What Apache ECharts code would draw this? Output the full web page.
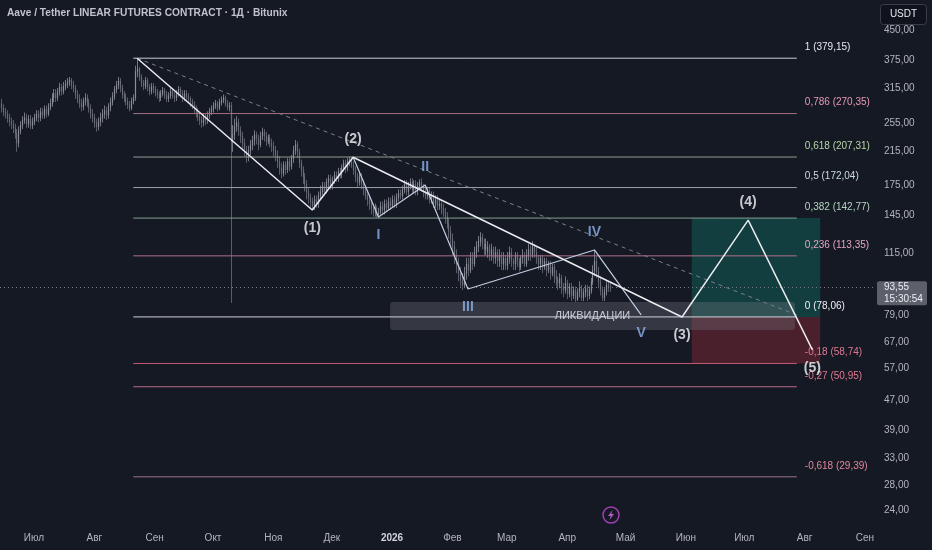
<!DOCTYPE html>
<html><head><meta charset="utf-8">
<script src="https://cdn.jsdelivr.net/npm/echarts@6/dist/echarts.min.js"></script>
<style>html,body{margin:0;padding:0;background:#151924;}#c{width:932px;height:550px;}</style>
</head><body><div id="c"></div>
<script>
// ---------- DATA ----------
const titleText = 'Aave / Tether LINEAR FUTURES CONTRACT · 1Д · Bitunix';
const currencyLabel = 'USDT';
const firstCandleDate = '2025-06-14';
// daily bars: [open, close, low, high]
const candles = [
[288,280,272,296],[280,274,266,286],[274,270,262,280],[270,264,256,276],[264,258,250,270],[258,254,246,264],[254,248,240,260],[248,240,232,254],[240,226,214,246],[226,244,220,250],
[244,252,238,258],[252,260,246,266],[260,264,254,272],[264,254,248,270],[254,262,248,268],[262,252,246,268],[252,258,246,264],[258,264,252,270],[264,270,258,276],[270,264,256,276],
[264,274,258,280],[274,268,262,280],[268,278,262,284],[278,270,264,284],[270,282,266,288],[282,288,276,296],[288,298,282,306],[298,306,290,314],[306,298,290,314],[298,310,292,316],
[310,318,302,326],[318,310,302,324],[310,320,304,328],[320,324,312,332],[324,328,316,336],[328,332,320,338],[332,322,314,336],[322,316,308,330],[316,304,296,322],[304,296,288,312],
[296,288,280,304],[288,282,274,296],[282,292,276,298],[292,298,284,306],[298,290,282,304],[290,280,272,296],[280,270,262,286],[270,264,256,278],[264,256,248,270],[256,250,242,262],
[250,258,244,264],[258,264,250,272],[264,270,256,278],[270,276,262,284],[276,268,260,282],[268,282,262,288],[282,290,274,298],[290,300,284,308],[300,314,294,320],[314,322,306,330],
[322,330,314,338],[330,316,308,336],[316,304,296,322],[304,300,290,310],[300,292,284,306],[292,286,278,298],[286,280,274,292],[280,292,276,298],[292,298,286,304],[298,350,292,362],
[350,356,338,379],[356,338,330,360],[338,326,318,344],[326,320,312,332],[320,332,314,338],[332,318,310,336],[318,310,302,324],[310,320,304,326],[320,314,306,326],[314,308,300,320],
[308,304,296,314],[304,298,290,310],[298,306,292,312],[306,312,300,318],[312,304,296,316],[304,296,290,310],[296,302,290,308],[302,310,296,316],[310,302,296,314],[302,298,290,308],
[298,306,292,312],[306,314,300,320],[314,306,298,318],[306,298,290,312],[298,306,292,312],[306,300,294,312],[300,296,288,306],[296,290,282,300],[290,286,278,296],[286,278,270,292],
[278,274,264,284],[274,266,258,280],[266,260,252,272],[260,256,248,266],[256,266,250,270],[266,260,252,270],[260,268,254,274],[268,274,262,280],[274,278,268,284],[278,284,272,290],
[284,288,278,294],[288,280,274,292],[280,290,276,296],[290,294,284,300],[294,298,288,304],[298,288,282,302],[288,282,276,294],[282,284,274,290],[284,228,85,290],[228,238,214,252],
[238,250,230,262],[250,256,242,266],[256,244,236,262],[244,236,226,250],[236,226,218,242],[226,216,208,232],[216,208,200,222],[208,216,202,222],[216,224,210,230],[224,230,216,236],
[230,238,222,244],[238,232,224,242],[232,224,216,238],[224,236,220,242],[236,242,230,248],[242,236,228,246],[236,228,222,242],[228,234,224,238],[234,226,220,238],[226,222,214,232],
[222,216,208,228],[216,210,202,222],[210,202,194,216],[202,194,186,208],[194,188,182,200],[188,198,184,202],[198,192,186,202],[192,202,188,206],[202,196,190,206],[196,206,192,210],
[206,216,200,222],[216,224,210,230],[224,214,206,228],[214,200,194,218],[200,192,184,204],[192,184,176,196],[184,176,168,188],[176,168,160,180],[168,162,156,172],[162,158,152,166],
[158,154,150,162],[154,160,150,164],[160,156,152,164],[156,164,152,168],[164,168,160,174],[168,174,164,178],[174,168,164,178],[168,178,166,182],[178,182,172,186],[182,174,170,186],
[174,180,170,184],[180,186,176,190],[186,182,178,190],[182,190,178,194],[190,186,182,194],[186,194,182,198],[194,200,190,204],[200,194,188,204],[194,202,190,206],[202,204,196,208],
[204,198,194,208],[198,192,186,202],[192,184,178,196],[184,178,172,188],[178,186,174,190],[186,176,170,188],[176,170,164,180],[170,164,160,174],[164,160,154,168],[160,156,150,164],
[156,152,146,160],[152,148,144,156],[148,152,144,156],[152,146,143,154],[146,148,143,152],[148,154,146,158],[154,150,146,158],[150,156,146,160],[156,152,148,160],[152,158,150,162],
[158,154,150,162],[154,160,152,164],[160,156,152,164],[156,162,152,166],[162,166,158,170],[166,164,160,170],[164,170,160,174],[170,176,166,180],[176,168,164,180],[168,174,164,178],
[174,178,170,182],[178,170,166,182],[170,176,166,180],[176,168,164,180],[168,174,164,178],[174,178,170,181],[178,172,168,182],[172,168,162,176],[168,164,160,172],[164,168,160,172],
[168,160,156,172],[160,164,156,168],[164,156,152,168],[156,160,152,164],[160,154,150,164],[154,156,150,160],[156,152,146,158],[152,148,144,156],[148,144,138,152],[144,138,134,148],
[138,132,126,142],[132,126,120,136],[126,120,114,130],[120,114,108,124],[114,108,102,118],[108,102,97,112],[102,98,94,106],[98,95,92,102],[95,102,93,106],[102,108,98,112],
[108,104,100,112],[104,112,102,116],[112,108,104,116],[108,116,106,120],[116,120,112,124],[120,124,116,128],[124,127,120,131],[127,122,118,130],[122,118,114,126],[118,122,114,126],
[116,120,112,124],[120,114,110,122],[114,118,110,122],[118,112,108,120],[112,116,108,120],[116,110,106,118],[110,114,106,118],[114,108,104,116],[108,112,104,116],[112,107,104,114],
[107,112,104,116],[112,116,108,120],[116,110,106,119],[110,108,104,112],[108,114,104,116],[114,110,106,116],[110,106,103,112],[106,112,104,114],[112,114,108,118],[114,108,106,116],
[108,114,106,118],[114,118,110,122],[118,114,110,121],[114,120,112,124],[120,116,112,122],[116,112,108,120],[112,108,104,114],[108,112,104,114],[112,106,102,114],[106,110,104,112],
[110,104,100,112],[104,108,102,110],[108,102,98,110],[102,106,100,108],[106,100,96,108],[100,98,94,104],[98,96,92,100],[96,99,93,102],[99,94,90,101],[94,92,88,96],
[92,96,90,100],[96,90,87,98],[90,94,88,96],[94,89,86,96],[89,92,87,94],[92,87,85.5,94],[87,91,86,93],[91,93,88,97],[93,88,86,95],[88,91,86,93],
[91,93,88,95],[93,89,86,95],[89,92,87,94],[92,97,90,99],[97,104,95,107],[104,110,100,117.5],[110,103,99,113],[103,97,93,106],[97,92,89,100],[92,88,86,94],
[88,91,86,93],[91,95,89,97],[95,94,91,97],[94,93.55,91,96]
];
const lastPrice = 93.55;
const countdownText = '15:30:54';

const monthDates = ['2025-07-01','2025-08-01','2025-09-01','2025-10-01','2025-11-01','2025-12-01','2026-01-01','2026-02-01','2026-03-01','2026-04-01','2026-05-01','2026-06-01','2026-07-01','2026-08-01','2026-09-01'];
const monthLabels = ['Июл','Авг','Сен','Окт','Ноя','Дек','2026','Фев','Мар','Апр','Май','Июн','Июл','Авг','Сен'];
const priceTicks = [450,375,315,255,215,175,145,115,79,67,57,47,39,33,28,24];

const fibRatios = ['1','0,786','0,618','0,5','0,382','0,236','0','-0,18','-0,27','-0,618'];
const fibPrices = [379.15,270.35,207.31,172.04,142.77,113.35,78.06,58.74,50.95,29.39];
const fibDates = ['2025-08-21','2026-07-28'];

const mainWaveDates = ['2025-08-23','2025-11-21','2025-12-12','2026-05-30','2026-07-03','2026-08-05'];
const mainWavePrices = [379.15,150,207,78,141,63.8];
const mainWaveLabels = ['','(1)','(2)','(3)','(4)','(5)'];

const subWaveDates = ['2025-12-12','2025-12-25','2026-01-18','2026-02-09','2026-04-15','2026-05-09'];
const subWavePrices = [207,143.7,174.8,92.6,117.5,79];
const subWaveLabels = ['','I','II','III','IV','V'];

const trendDates = ['2025-08-23','2026-07-28'];
const trendPrices = [379.15,79];

const positionDates = ['2026-06-04','2026-08-09'];
const positionEntry = 78.06, positionTarget = 142.77, positionStop = 58.74;

const liqDates = ['2025-12-31','2026-07-27'];
const liqPrices = [85.5,72.1];
const liqText = 'ЛИКВИДАЦИИ';

// ---------- STYLES ----------
const FONT = "'Liberation Sans', Arial, sans-serif";
const BG = '#151924';
const fibLineColors = ['#c9ccd3','#a86d84','#8f9d8f','#9aa1aa','#82a08f','#b07089','#d1d4dc','#c25a72','#b86a80','#9c7383'];
const fibTextColors = ['#e6e8ee','#e79ab2','#b7d6a6','#c9dbe0','#b4d6bf','#e2a6bf','#eef0f4','#e27890','#e27890','#e2879c'];

// ---------- HELPERS ----------
const ORIGIN = Date.UTC(2025,6,1);
function dayOf(s){const a=s.split('-').map(Number);return (Date.UTC(a[0],a[1]-1,a[2])-ORIGIN)/86400000;}
const L = Math.log;
function fmt(p){return (Math.round(p*100)/100).toFixed(2).replace('.',',');}

const startDay = dayOf(firstCandleDate);
const candleData = candles.map((r,i)=>[startDay+i, L(r[0]), L(r[1]), L(r[2]), L(r[3])]);
const monthDays = monthDates.map(dayOf);

const fibData = fibPrices.map((p,i)=>[dayOf(fibDates[0]), dayOf(fibDates[1]), L(p), i]);
const boxData = [
  [dayOf(positionDates[0]), dayOf(positionDates[1]), L(positionTarget), L(positionEntry), 0],
  [dayOf(positionDates[0]), dayOf(positionDates[1]), L(positionEntry), L(positionStop), 1],
  [dayOf(liqDates[0]), dayOf(liqDates[1]), L(liqPrices[0]), L(liqPrices[1]), 2]
];
const boxFills = ['rgba(16,150,128,0.30)','rgba(242,54,69,0.24)','rgba(120,123,134,0.32)'];

function waveLine(dates, prices){return dates.map((d,i)=>[dayOf(d), L(prices[i])]);}
function waveLabels(dates, prices, labels){
  return dates.map((d,i)=>({value:[dayOf(d), L(prices[i])], name:labels[i],
    label:{position: i%2===1 ? 'bottom':'top'}})).filter(o=>o.name);
}

const chart = echarts.init(document.getElementById('c'));
const option = {
  backgroundColor: BG,
  animation: false,
  title: {text: titleText, left: 7, top: 8, padding: 0, textStyle:{color:'#c0c3cb', fontSize:10.2, fontWeight:'bold', fontFamily:FONT}},
  grid: {left: 0, right: 57, top: 0, bottom: 22},
  xAxis: {
    type:'value', min:-17.47, max:432.17,
    axisLine:{show:false}, axisTick:{show:false}, splitLine:{show:false},
    axisLabel:{customValues: monthDays, margin:5, color:'#b2b5be', fontSize:10, fontFamily:FONT,
      formatter:(v)=>{const i=monthDays.findIndex(m=>Math.abs(m-v)<0.01); const s=monthLabels[i]||''; return s==='2026'?'{b|2026}':s;},
      rich:{b:{fontWeight:'bold', color:'#d1d4dc', fontSize:10, fontFamily:FONT}}}
  },
  yAxis: {
    type:'value', position:'right', min:3.06805, max:6.29345,
    axisLine:{show:false}, axisTick:{show:false}, splitLine:{show:false},
    axisLabel:{customValues: priceTicks.map(L), margin:9, color:'#b2b5be', fontSize:10, fontFamily:FONT,
      formatter:(v)=>fmt(Math.exp(v))}
  },
  series: [
    {type:'custom', z:1, silent:true, clip:false,
      renderItem:(params, api)=>{
        const i = api.value(4);
        const p0 = api.coord([api.value(0), api.value(2)]);
        const p1 = api.coord([api.value(1), api.value(3)]);
        const children = [{type:'rect', shape:{x:p0[0], y:p0[1], width:p1[0]-p0[0], height:p1[1]-p0[1], r: i===2?3:0}, style:{fill:boxFills[i]}}];
        if(i===2){children.push({type:'text', style:{text:liqText, x:(p0[0]+p1[0])/2, y:(p0[1]+p1[1])/2, align:'center', verticalAlign:'middle', fill:'#c9ccd4', font:'11px '+FONT}});}
        return {type:'group', children};
      },
      encode:{x:[0,1], y:[2,3]},
      data: boxData},
    // daily price bars (high-low), drawn through the axes
    {type:'custom', z:2, silent:true,
      renderItem:(params, api)=>{
        const x = api.value(0);
        const pl = api.coord([x, api.value(3)]);
        const ph = api.coord([x, api.value(4)]);
        const po = api.coord([x, api.value(1)]);
        const pc = api.coord([x, api.value(2)]);
        const up = api.value(2) >= api.value(1);
        const cx = Math.round(pl[0]) + 0.5;
        const col = up ? '#8b8e99' : '#6a6d78';
        return {type:'group', children:[
          {type:'line', shape:{x1:cx, y1:ph[1], x2:cx, y2:pl[1]}, style:{stroke:col, lineWidth:1, opacity:0.8}},
          {type:'line', shape:{x1:cx, y1:Math.min(po[1],pc[1]), x2:cx, y2:Math.max(po[1],pc[1])+0.5}, style:{stroke:col, lineWidth:1.2}}
        ]};
      },
      encode:{x:0, y:[1,2,3,4]},
      data: candleData},
    {type:'custom', z:3, silent:true, clip:false,
      renderItem:(params, api)=>{
        const i = api.value(3);
        const p0 = api.coord([api.value(0), api.value(2)]);
        const p1 = api.coord([api.value(1), api.value(2)]);
        return {type:'group', children:[
          {type:'line', shape:{x1:p0[0], y1:p0[1], x2:p1[0], y2:p1[1]}, style:{stroke:fibLineColors[i], lineWidth:1}},
          {type:'text', style:{text: fibRatios[i]+' ('+fmt(fibPrices[i])+')', x:p1[0]+8, y:p1[1]-11, align:'left', verticalAlign:'middle', fill:fibTextColors[i], font:'10px '+FONT}}
        ]};
      },
      encode:{x:[0,1], y:2},
      data: fibData},
    {type:'line', z:4, silent:true, symbol:'none', data: waveLine(trendDates, trendPrices),
      lineStyle:{color:'#7a7e8a', width:1, type:[4,4]},
      markLine:{silent:true, symbol:['none','none'], label:{show:false},
        lineStyle:{type:[1,3], color:'#787b86', width:1},
        data:[{yAxis: L(lastPrice)}]}},
    {type:'line', z:5, silent:true, symbol:'none', data: waveLine(subWaveDates, subWavePrices),
      lineStyle:{color:'#c2cde2', width:1.2}},
    {type:'line', z:6, silent:true, symbol:'none', data: waveLine(mainWaveDates, mainWavePrices),
      lineStyle:{color:'#e9eaee', width:1.5}},
    {type:'scatter', z:7, silent:true, symbolSize:0, data: waveLabels(subWaveDates, subWavePrices, subWaveLabels),
      label:{show:true, formatter:'{b}', distance:11, color:'#8db2ea', fontSize:14, fontWeight:'bold', fontFamily:FONT}},
    {type:'scatter', z:8, silent:true, symbolSize:0, data: waveLabels(mainWaveDates, mainWavePrices, mainWaveLabels),
      label:{show:true, formatter:'{b}', distance:11, color:'#f4f5f7', fontSize:14, fontWeight:'bold', fontFamily:FONT}}
  ]
};
chart.setOption(option);

// price label and UI chrome
const py = chart.convertToPixel({yAxisIndex:0}, L(lastPrice));
chart.setOption({graphic:[
  {type:'rect', z:100, shape:{x:877, y:py-6, width:50, height:24, r:2}, style:{fill:'#5d606b'}},
  {type:'text', z:101, style:{text:fmt(lastPrice), x:884, y:py, verticalAlign:'middle', fill:'#eceef2', font:'10px '+FONT}},
  {type:'text', z:101, style:{text:countdownText, x:884, y:py+12, verticalAlign:'middle', fill:'#eceef2', font:'10px '+FONT}},
  {type:'rect', z:100, shape:{x:880.5, y:4.5, width:46, height:20, r:3}, style:{fill:'#10131b', stroke:'#3a3e4a', lineWidth:1}},
  {type:'text', z:101, style:{text:currencyLabel, x:903.5, y:14.5, align:'center', verticalAlign:'middle', fill:'#e6e8ee', font:'10px '+FONT}},
  {type:'group', z:100, x:611, y:515, children:[
    {type:'circle', shape:{cx:0, cy:0, r:8}, style:{fill:'none', stroke:'#a13fb5', lineWidth:1.5}},
    {type:'polygon', shape:{points:[[1.5,-5],[-3,1],[-0.3,1],[-1.5,5],[3,-1],[0.3,-1]]}, style:{fill:'#b25ac4'}}
  ]}
]});
</script>
</body></html>
